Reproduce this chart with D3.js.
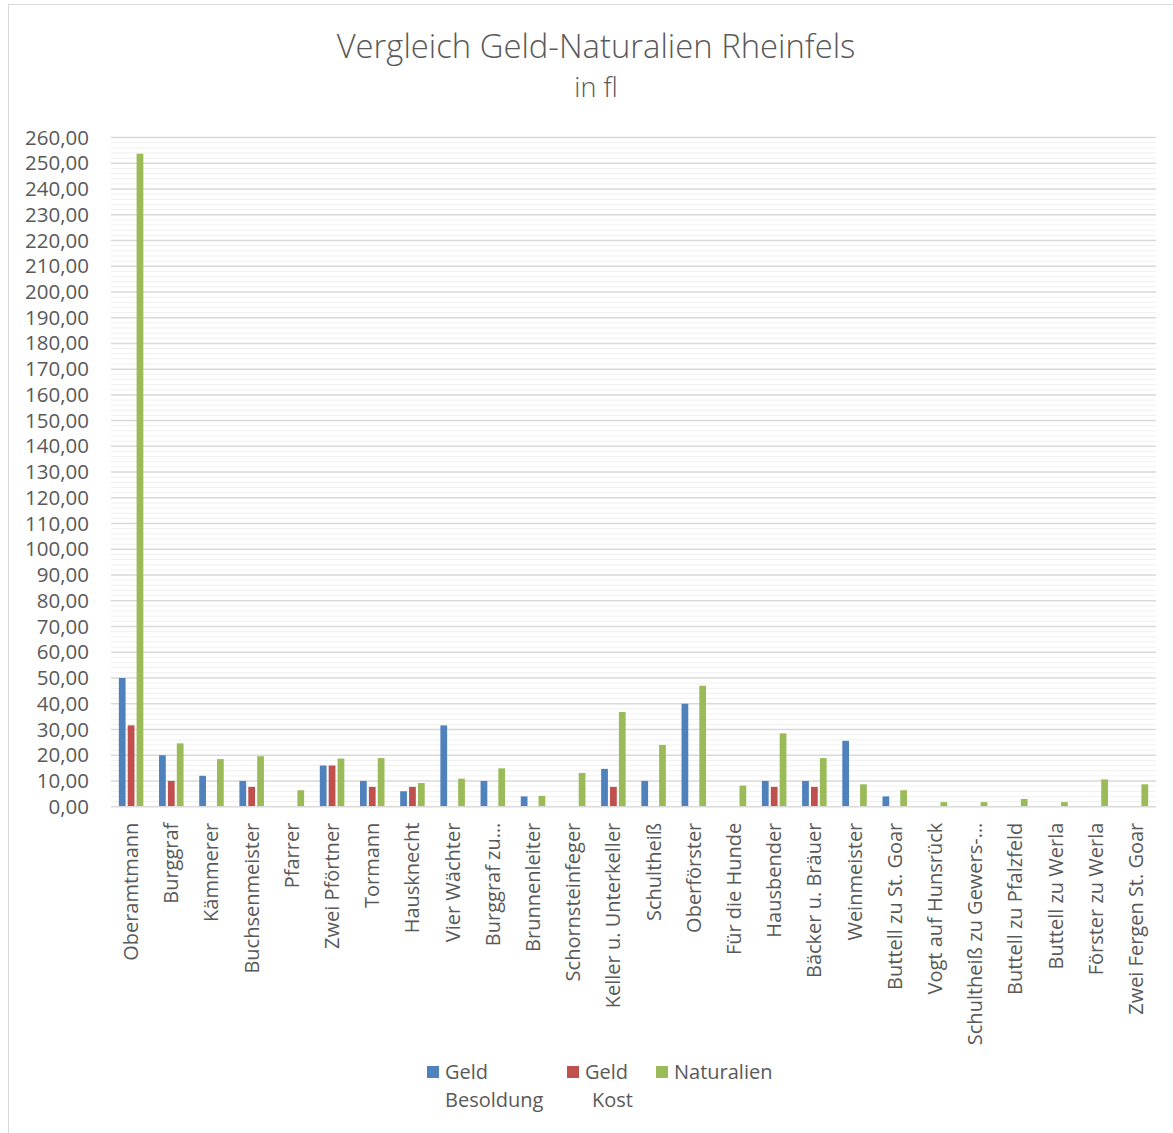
<!DOCTYPE html>
<html><head><meta charset="utf-8">
<script src="https://cdn.jsdelivr.net/npm/d3@7"></script>
<style>body{margin:0;background:#fff}text{font-family:"Open Sans",sans-serif}</style>
</head><body>
<script>
const categories = ["Oberamtmann","Burggraf","Kämmerer","Buchsenmeister","Pfarrer","Zwei Pförtner","Tormann","Hausknecht","Vier Wächter","Burggraf zu…","Brunnenleiter","Schornsteinfeger","Keller u. Unterkeller","Schultheiß","Oberförster","Für die Hunde","Hausbender","Bäcker u. Bräuer","Weinmeister","Buttell zu St. Goar","Vogt auf Hunsrück","Schultheiß zu Gewers-…","Buttell zu Pfalzfeld","Buttell zu Werla","Förster zu Werla","Zwei Fergen St. Goar"];
const geldBesoldung = [50,20,12,10,0,16,10,6,31.6,10,4,0,14.7,10,40,0,10,10,25.6,4,0,0,0,0,0,0];
const geldKost      = [31.6,10,0,7.7,0,16,7.7,7.7,0,0,0,0,7.7,0,0,0,7.7,7.7,0,0,0,0,0,0,0,0];
const naturalien    = [253.7,24.6,18.5,19.6,6.4,18.7,18.9,9.2,10.9,14.9,4.2,13.1,36.8,24,47,8.2,28.5,18.9,8.7,6.4,1.8,1.8,3,1.8,10.6,8.7];
const seriesNames = ["Geld Besoldung","Geld Kost","Naturalien"];
const seriesColors = ["#4f81bd","#c0504d","#9bbb59"];
const yTicks = d3.range(0,261,10);
</script>
<script>
const W=1173,H=1133;
const svg=d3.select("body").append("svg").attr("width",W).attr("height",H);
svg.append("rect").attr("x",8.5).attr("y",4.5).attr("width",1300).attr("height",1300)
  .attr("fill","#fff").attr("stroke","#d9d9d9").attr("stroke-width",1);

const x0=d3.scaleBand().domain(categories).range([111,1156]).paddingInner(0.39).paddingOuter(0.195);
const x1=d3.scaleBand().domain(seriesNames).range([0,x0.bandwidth()]).paddingInner(0.24);
const y=d3.scaleLinear().domain([0,260]).range([806.7,137.5]);

const g=svg.append("g");
g.selectAll("line.minor").data(d3.range(2,260,2).filter(v=>v%10!==0)).join("line")
  .attr("x1",111).attr("x2",1156).attr("y1",d=>y(d)).attr("y2",d=>y(d))
  .attr("stroke","#f0f0f0").attr("stroke-width",1);
g.selectAll("line.major").data(yTicks.filter(v=>v>0)).join("line")
  .attr("x1",111).attr("x2",1156).attr("y1",d=>y(d)).attr("y2",d=>y(d))
  .attr("stroke","#d9d9d9").attr("stroke-width",1.5);

const yAxis=d3.axisLeft(y).tickValues(yTicks).tickSize(0).tickPadding(0)
  .tickFormat(d=>d3.format(".2f")(d).replace(".",","));
const ya=svg.append("g").attr("transform","translate(89,0)").call(yAxis);
ya.select(".domain").remove();
ya.selectAll("text").attr("font-size",20.5).attr("fill","#595959").attr("font-family","Open Sans");

const data=categories.map((c,i)=>({c,vals:[geldBesoldung[i],geldKost[i],naturalien[i]]}));
const grp=svg.append("g").selectAll("g").data(data).join("g")
  .attr("transform",d=>`translate(${x0(d.c)},0)`);
grp.selectAll("rect").data(d=>d.vals.map((v,k)=>({k,v}))).join("rect")
  .filter(d=>d.v>0)
  .attr("x",d=>x1(seriesNames[d.k])).attr("width",x1.bandwidth())
  .attr("y",d=>y(d.v)).attr("height",d=>y(0)-y(d.v))
  .attr("fill",d=>seriesColors[d.k]);

svg.append("line").attr("x1",111).attr("x2",1156).attr("y1",y(0)).attr("y2",y(0))
  .attr("stroke","#d9d9d9").attr("stroke-width",1.5);

const xa=svg.append("g").attr("transform",`translate(0,${y(0)})`)
  .call(d3.axisBottom(x0).tickSize(0).tickPadding(0));
xa.select(".domain").remove();
xa.selectAll("text").attr("font-size",20).attr("fill","#595959").attr("font-family","Open Sans")
  .attr("text-anchor","end").attr("dy",0)
  .attr("transform","translate(7,16) rotate(-90)");

svg.append("text").attr("x",596).attr("y",58).attr("text-anchor","middle")
  .attr("font-size",32.8).attr("font-weight",300).attr("fill","#595959").text("Vergleich Geld-Naturalien Rheinfels");
svg.append("text").attr("x",596).attr("y",97).attr("text-anchor","middle")
  .attr("font-size",27).attr("font-weight",300).attr("fill","#595959").text("in fl");

const leg=[{x:427,l1:"Geld",l2:"Besoldung",l2x:445},{x:567,l1:"Geld",l2:"Kost",l2x:592},{x:656,l1:"Naturalien",l2:"",l2x:0}];
leg.forEach((d,i)=>{
  svg.append("rect").attr("x",d.x).attr("y",1066).attr("width",12).attr("height",12).attr("fill",seriesColors[i]);
  svg.append("text").attr("x",d.x+18).attr("y",1079).attr("font-size",20).attr("fill","#595959").text(d.l1);
  if(d.l2) svg.append("text").attr("x",d.l2x).attr("y",1107).attr("font-size",20).attr("fill","#595959").text(d.l2);
});
</script>
</body></html>
